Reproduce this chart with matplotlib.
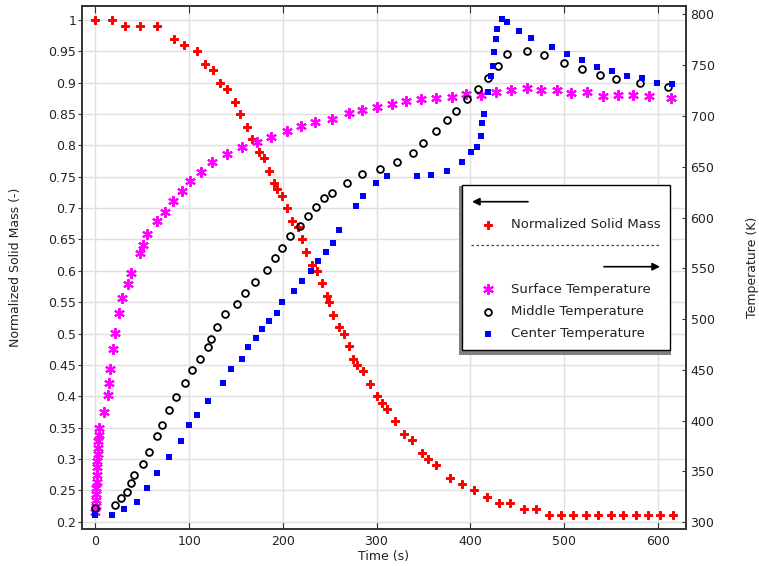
"""Pyrolysis particle: normalized solid mass (left) and temperatures (right) vs time."""

import matplotlib
matplotlib.use("Agg")
import matplotlib.pyplot as plt
from matplotlib.lines import Line2D
from matplotlib.patches import Rectangle, FancyArrowPatch

# normalized solid mass
t_mass = [0, 18, 32, 47.5, 66, 84, 94.5, 108, 117, 126, 132.5, 140, 149, 154, 162, 167,
          174.5, 180, 185, 190.5, 194, 199, 204.7, 210, 216, 220.7, 225, 230.7, 236, 242,
          247.4, 249, 253.8, 260, 265.5, 270.9, 275, 279.4, 286, 293, 300, 306, 311.5, 320,
          329, 337.5, 349, 355, 364, 378, 391, 404, 417.5, 431, 443, 457.6, 470, 484, 497,
          510, 523.5, 536.6, 549.8, 563, 576.5, 590, 603, 616]
mass = [1.0, 1.0, 0.99, 0.99, 0.99, 0.97, 0.96, 0.95, 0.93, 0.92, 0.90, 0.89, 0.87, 0.85,
        0.83, 0.81, 0.79, 0.78, 0.76, 0.74, 0.73, 0.72, 0.70, 0.68, 0.67, 0.65, 0.63, 0.61,
        0.60, 0.58, 0.56, 0.55, 0.53, 0.51, 0.50, 0.48, 0.46, 0.45, 0.44, 0.42, 0.40, 0.39,
        0.38, 0.36, 0.34, 0.33, 0.31, 0.30, 0.29, 0.27, 0.26, 0.25, 0.24, 0.23, 0.23, 0.22,
        0.22, 0.21, 0.21, 0.21, 0.21, 0.21, 0.21, 0.21, 0.21, 0.21, 0.21, 0.21]

# surface temperature
t_surf = [0, 0.2, 0.4, 0.7, 1.0, 1.3, 1.6, 1.9, 2.2, 2.5, 2.8, 3.1, 3.4, 3.8, 9, 13, 14.8,
          16, 19, 20.8, 25.4, 28.6, 34.3, 37.9, 47.5, 51, 55.3, 65.3, 74.2, 83, 92, 100.9,
          113, 124, 140, 156, 172, 187, 204, 219, 234, 252.7, 270.5, 284, 300, 316.8, 332,
          348, 363, 381, 396, 412, 428, 444, 461, 476, 493, 508, 525, 542, 558, 574, 591, 614]
T_surf = [310, 316, 322, 328, 334, 340, 347, 354, 360, 367, 373, 380, 386, 393, 408.8, 425,
          436.7, 451, 470.5, 486, 505.7, 520.5, 534.3, 545.1, 565.4, 573, 583.5, 596.6, 605.7,
          616.5, 626.4, 635.9, 644.5, 654.3, 662.2, 669.7, 674.6, 679.5, 685, 690, 694.3, 697,
          702.6, 705.8, 708.5, 711.4, 714.7, 716.6, 718, 719, 721.6, 720.6, 723.2, 725.5,
          727.2, 725.5, 725.5, 722.2, 723.2, 720, 720.6, 721, 720, 717.3]

# middle temperature
t_mid = [0, 20.8, 27, 33.3, 38, 41, 51, 57.4, 66, 70.6, 78.8, 86, 95.5, 103.3, 112, 120.4,
         123, 130, 138, 151.3, 159.6, 170, 182.7, 191.6, 199.4, 207.6, 218.2, 227, 235.3,
         244, 252, 268, 285, 303.6, 322, 338.5, 350, 363, 374.8, 384.7, 396.8, 408.5, 419,
         430, 439.5, 460.8, 478.6, 500, 519, 539, 556, 581, 610.6]
T_mid = [313.8, 317, 323.6, 329.5, 338.4, 346.5, 357, 369.2, 385.2, 395.8, 410.5, 423, 437.4,
         450, 461, 472.8, 480.4, 492, 504.7, 514.6, 525.4, 536.8, 548.3, 559.8, 570.3, 581.8,
         591.6, 601.5, 610, 619, 624.4, 634.3, 642.5, 647.7, 655, 663.8, 673.6, 685, 696, 705,
         716.6, 726.5, 737.6, 749.4, 760.6, 764, 760, 751.8, 746, 740.3, 736.3, 732.7, 728]

# center temperature
t_cen = [0, 17.3, 30.7, 44.6, 55.3, 66, 78.8, 90.9, 100, 108, 120.4, 135.7, 144.3, 156, 163,
         171, 178, 185.5, 193.4, 199.4, 212.2, 221, 229.7, 237.8, 246, 253.8, 260, 278, 285.8,
         299, 310.8, 343.5, 357.7, 374.8, 390.8, 400.4, 406.8, 412, 413, 415, 419, 422, 424.5,
         425.6, 428, 429, 434, 438.8, 452, 464.8, 487, 503, 519, 535, 551, 567, 583, 599.6,
         615.6]
T_cen = [307.2, 307.2, 313.1, 319.7, 333.5, 348.2, 364, 379.7, 395.8, 405.6, 419.1, 436.8,
         450.6, 461, 472.2, 481.1, 490, 498.4, 506.3, 516.5, 527.7, 537.5, 547.3, 557.2, 566.3,
         575.2, 587.7, 611.3, 621, 633.7, 640.9, 640.9, 641.8, 646, 655, 664.2, 669.7, 680.2,
         693.3, 701.6, 723.2, 739.3, 749, 762.6, 775.4, 785.2, 795.4, 792.1, 783.9, 776.4,
         767.5, 760.6, 755, 748.4, 744.2, 739.6, 737, 732.1, 731.1]

x_ticks = [0, 100, 200, 300, 400, 500, 600]
mass_ticks = [0.2, 0.25, 0.3, 0.35, 0.4, 0.45, 0.5, 0.55, 0.6, 0.65, 0.7, 0.75, 0.8, 0.85,
              0.9, 0.95, 1.0]
mass_labels = ["0.2", "0.25", "0.3", "0.35", "0.4", "0.45", "0.5", "0.55", "0.6", "0.65",
               "0.7", "0.75", "0.8", "0.85", "0.9", "0.95", "1"]
temp_ticks = [300, 350, 400, 450, 500, 550, 600, 650, 700, 750, 800]

RED, MAG, BLUE = "#ff0000", "#ff00ff", "#0000ff"
ASTER = (6, 2, 0)
STY = {
    "mass": dict(marker="P", ms=5.6, mew=0.7, mec=RED, color=RED),
    "surf": dict(marker=ASTER, ms=7.6, mew=1.5, color=MAG),
    "mid": dict(marker="o", ms=4.9, mew=1.3, mfc="none", mec="black", color="black"),
    "cen": dict(marker="s", ms=4.5, mew=0, color=BLUE),
}
FS = 9
W, H = 759, 566


def fig_xy(px, py):
    return px / W, 1 - py / H


def main():
    plt.rcParams["font.family"] = "DejaVu Sans"
    fig = plt.figure(figsize=(W / 100, H / 100), dpi=100)
    ax = fig.add_axes([82.3 / W, 1 - 529 / H, 603.4 / W, 523 / H])
    ax2 = ax.twinx()

    ax.plot(t_mass, mass, ls="none", **STY["mass"])
    ax2.plot(t_surf, T_surf, ls="none", **STY["surf"])
    ax2.plot(t_mid, T_mid, ls="none", **STY["mid"])
    ax2.plot(t_cen, T_cen, ls="none", **STY["cen"])

    ax.set_xlim(-14, 630)
    ax.set_ylim(0.1884, 1.0223)
    ax2.set_ylim(293.4, 808.2)
    ax.set_xticks(x_ticks)
    ax.set_yticks(mass_ticks, mass_labels)
    ax2.set_yticks(temp_ticks)
    ax.grid(True, color="#e0e0e0", lw=1)
    ax.set_axisbelow(True)

    ax.tick_params(axis="x", direction="in", top=True, length=4.8, pad=4, labelsize=FS,
                   color="#333333", labelcolor="#222222")
    ax.tick_params(axis="y", direction="out", length=3.2, pad=1, labelsize=FS,
                   color="#333333", labelcolor="#222222")
    ax2.tick_params(axis="y", direction="in", length=3.2, pad=3.5, labelsize=FS,
                    color="#333333", labelcolor="#222222")
    for a in (ax, ax2):
        for s in a.spines.values():
            s.set_color("#333333")
            s.set_linewidth(1.2)

    ax.set_xlabel("Time (s)", fontsize=FS, color="#222222")
    ax.xaxis.set_label_coords(0.5, -0.041)
    ax.set_ylabel("Normalized Solid Mass (-)", fontsize=FS, color="#222222")
    ax.yaxis.set_label_coords(-0.100, 0.5)
    ax2.set_ylabel("Temperature (K)", fontsize=FS, color="#222222")
    ax2.yaxis.set_label_coords(1.100, 0.5)

    # legend box drawn by hand: arrows point to the axis each group belongs to
    x0, y0 = fig_xy(458.5, 354.5)
    x1, y1 = fig_xy(671, 186)
    fig.add_artist(Rectangle((x0, y0), x1 - x0, y1 - y0, transform=fig.transFigure,
                             fc="#808080", ec="none", zorder=5))
    x0, y0 = fig_xy(461.7, 350)
    x1, y1 = fig_xy(670, 185)
    fig.add_artist(Rectangle((x0, y0), x1 - x0, y1 - y0, transform=fig.transFigure,
                             fc="white", ec="black", lw=1, zorder=6))
    arrow_kw = dict(transform=fig.transFigure, arrowstyle="-|>", mutation_scale=11,
                    color="black", lw=1.2, zorder=7, shrinkA=0, shrinkB=0)
    fig.add_artist(FancyArrowPatch(fig_xy(528, 201.7), fig_xy(472, 201.7), **arrow_kw))
    fig.add_artist(FancyArrowPatch(fig_xy(604, 266.7), fig_xy(660, 266.7), **arrow_kw))
    xa, ya = fig_xy(471, 245)
    xb, _ = fig_xy(661, 245)
    fig.add_artist(Line2D([xa, xb], [ya, ya], transform=fig.transFigure, color="#444444",
                          lw=0.9, ls=(0, (2, 2)), zorder=7))
    entries = [("Normalized Solid Mass", "mass", 225),
               ("Surface Temperature", "surf", 289),
               ("Middle Temperature", "mid", 311.7),
               ("Center Temperature", "cen", 334)]
    for label, key, py in entries:
        mx, my = fig_xy(488.3, py)
        fig.add_artist(Line2D([mx], [my], transform=fig.transFigure, ls="none", zorder=7,
                              **STY[key]))
        tx, ty = fig_xy(510.7, py)
        fig.text(tx, ty, label, fontsize=9.5, va="center", ha="left", color="#222222",
                 zorder=7)

    fig.savefig("out.png", dpi=100)


if __name__ == "__main__":
    main()
